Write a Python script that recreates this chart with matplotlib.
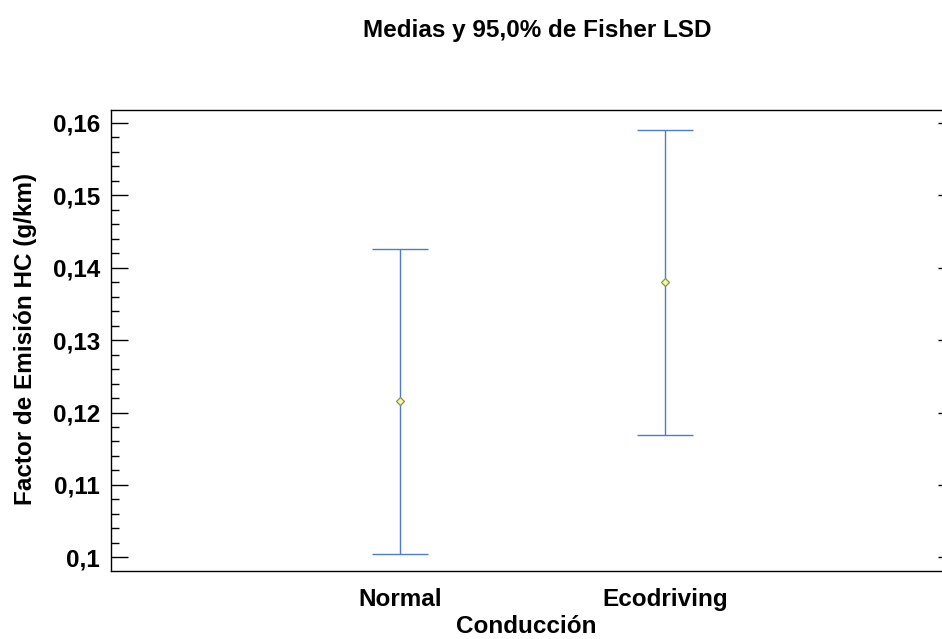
import numpy as np
import matplotlib.pyplot as plt
from matplotlib.ticker import FuncFormatter, MultipleLocator

# data
categories = ["Normal", "Ecodriving"]
means = [0.1216, 0.1380]
lower = [0.1004, 0.1169]
upper = [0.1426, 0.1590]

plt.rcParams['font.family'] = ['Liberation Sans', 'DejaVu Sans']
plt.rcParams['font.weight'] = 'bold'

fs = 17.5

fig = plt.figure(figsize=(9.42, 6.39), dpi=100)
ax = fig.add_axes([0.1178, 0.1064, 0.8822, 0.7215])

x = np.arange(1, len(categories) + 1)
m = np.array(means)
err = [m - np.array(lower), np.array(upper) - m]

ax.errorbar(x, m, yerr=err, fmt='none', ecolor='#4f7cc9', elinewidth=1.0,
            capsize=20, capthick=1.0, zorder=2)
ax.plot(x, m, linestyle='none', marker='D', markersize=4,
        markerfacecolor='#f2f2c8', markeredgecolor='#8a9a2a',
        markeredgewidth=0.9, zorder=3)

ax.set_xlim(-0.0906, 3.045)
ax.set_ylim(0.0981, 0.1618)

ax.set_xticks(x)
ax.set_xticklabels(categories, fontsize=fs, fontweight='bold')
ax.tick_params(axis='x', length=0, pad=12)

ax.yaxis.set_major_locator(MultipleLocator(0.01))
ax.yaxis.set_minor_locator(MultipleLocator(0.002))
ax.yaxis.set_major_formatter(FuncFormatter(
    lambda v, p: ('%g' % round(v, 3)).replace('.', ',')))
ax.tick_params(axis='y', which='major', direction='in', length=12,
               width=1, labelsize=fs, pad=8, right=True)
ax.tick_params(axis='y', which='minor', direction='in', length=6, width=1,
               right=False)
for t in ax.get_yticklabels():
    t.set_fontweight('bold')
for tl in ax.yaxis.get_majorticklines()[1::2]:
    tl.set_markersize(3)
    tl.set_color('#444444')

ax.spines['right'].set_visible(False)
for s in ['left', 'top', 'bottom']:
    ax.spines[s].set_linewidth(1.0)

ax.set_xlabel("Conducción", fontsize=fs, fontweight='bold')
ax.xaxis.set_label_coords(0.5, -0.0955)
ax.set_ylabel("Factor de Emisión HC (g/km)", fontsize=fs, fontweight='bold')
ax.yaxis.set_label_coords(-0.103, 0.503)
ax.yaxis.label.set_va('center')
fig.text(0.570, 0.942, "Medias y 95,0% de Fisher LSD", ha='center',
         va='baseline', fontsize=fs, fontweight='bold')

fig.savefig("out.png", dpi=100)
